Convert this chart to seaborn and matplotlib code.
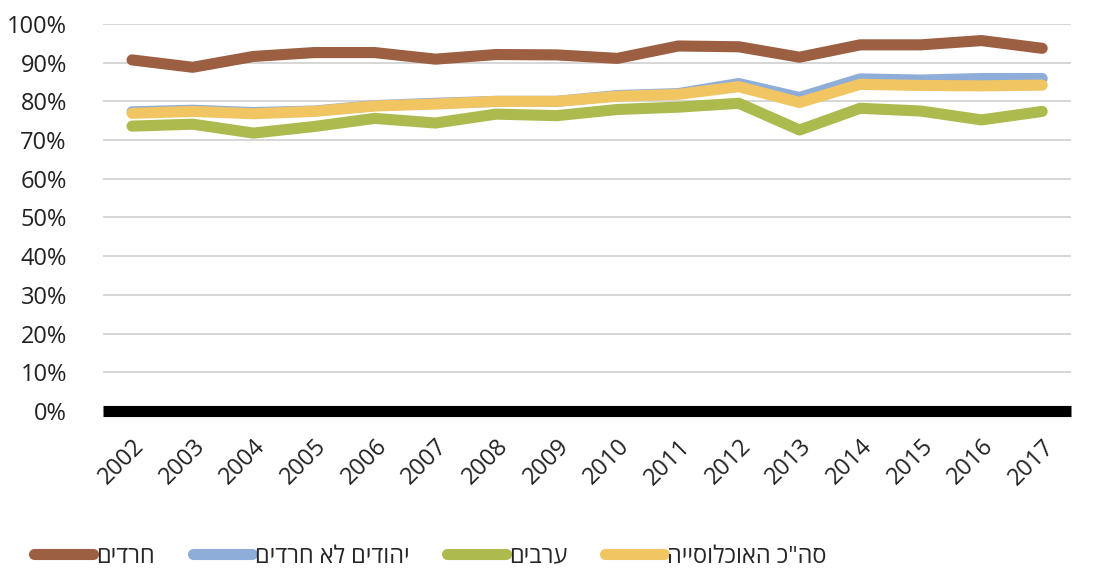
import matplotlib
matplotlib.use("Agg")
import matplotlib.pyplot as plt
import seaborn as sns
import pandas as pd
from matplotlib.ticker import PercentFormatter
from matplotlib.lines import Line2D

years = list(range(2002, 2018))
haredim = [90.7, 88.8, 91.6, 92.6, 92.6, 90.9, 92.1, 92.0, 91.1, 94.3, 94.1, 91.4, 94.6, 94.6, 95.7, 93.7]
jews_non_haredi = [77.3, 77.7, 77.1, 77.5, 78.9, 79.5, 80.0, 80.0, 81.5, 82.0, 84.6, 81.0, 85.8, 85.5, 85.9, 85.9]
arabs = [73.6, 74.1, 71.8, 73.5, 75.6, 74.4, 76.7, 76.3, 77.9, 78.5, 79.5, 72.6, 78.2, 77.5, 75.2, 77.4]
total = [76.9, 77.4, 76.8, 77.4, 78.8, 79.3, 80.0, 80.0, 81.3, 81.8, 83.8, 79.7, 84.4, 84.1, 84.0, 84.2]

series_names = ["חרדים", "יהודים לא חרדים", "ערבים", 'סה"כ האוכלוסייה']
colors = ["#9C5F41", "#8FADD9", "#ACBA4E", "#F2C563"]

def vis(s):
    # matplotlib has no bidi support: show Hebrew in visual order
    return s[::-1]

rows = []
for name, vals in zip(series_names, [haredim, jews_non_haredi, arabs, total]):
    for y, v in zip(years, vals):
        rows.append({"year": y, "value": v / 100.0, "series": vis(name)})
df = pd.DataFrame(rows)

sns.set_style("white")
plt.rcParams['font.family'] = ['Open Sans', 'DejaVu Sans']

fig = plt.figure(figsize=(11.01, 5.70), dpi=100)
ax = fig.add_axes([0.0935, 0.279, 0.879, 0.679])

sns.lineplot(data=df, x="year", y="value", hue="series",
             hue_order=[vis(n) for n in series_names],
             palette=colors, linewidth=8, ax=ax, legend=False,
             solid_capstyle="round")

ax.set_xlim(2002 - 0.48, 2017 + 0.47)
ax.set_ylim(0, 1.0)
ax.set_yticks([i / 10 for i in range(11)])
ax.yaxis.set_major_formatter(PercentFormatter(1.0, decimals=0))
ax.set_xticks(years)
ax.set_xticklabels([str(y) for y in years], rotation=45, ha="right",
                   rotation_mode="anchor", fontsize=17, color="#222222")
ax.tick_params(axis="y", labelsize=17, colors="#222222", length=0, pad=26)
ax.tick_params(axis="x", length=0, pad=17)
ax.grid(axis="y", color="#D0D0D0", linewidth=1.2)
ax.set_axisbelow(True)
ax.set_xlabel("")
ax.set_ylabel("")
for s in ["left", "right", "top"]:
    ax.spines[s].set_visible(False)
ax.spines["bottom"].set_color("black")
ax.spines["bottom"].set_linewidth(8)
ax.spines["bottom"].set_capstyle("butt")
ax.spines["bottom"].set_zorder(5)

handles = [Line2D([0], [0], color=c, linewidth=8, solid_capstyle="round") for c in colors]
fig.legend(handles, [vis(n) for n in series_names], loc="lower left",
           bbox_to_anchor=(0.012, -0.035), ncol=4, frameon=False, fontsize=17,
           handlelength=2.5, handletextpad=0.12, columnspacing=1.6)

fig.savefig("out.png", dpi=100)
